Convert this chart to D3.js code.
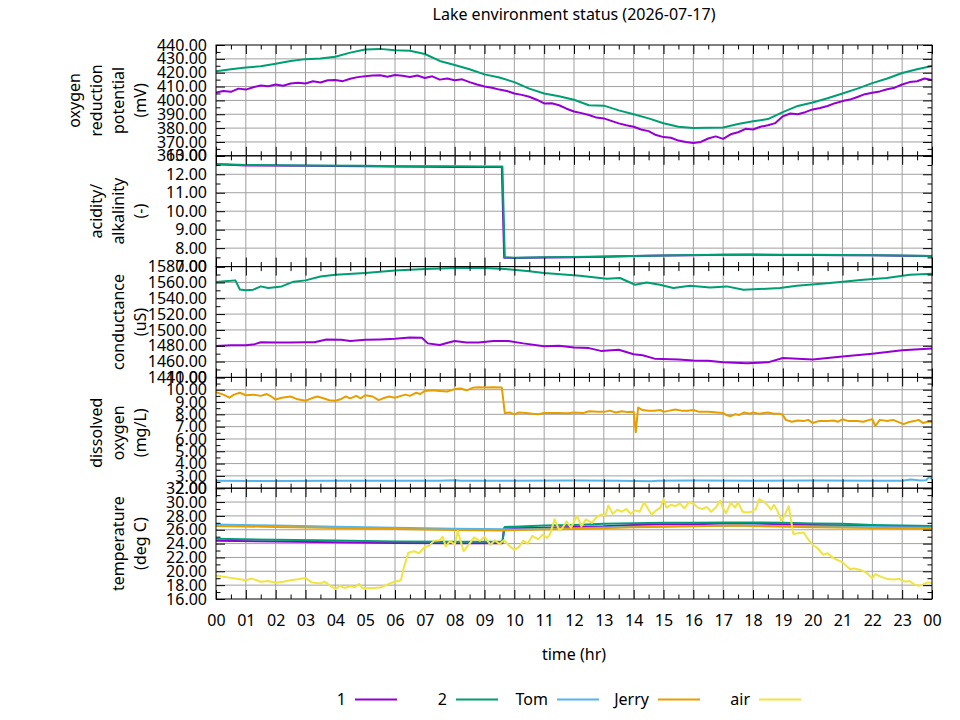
<!DOCTYPE html>
<html>
<head>
<meta charset="utf-8">
<script src="https://cdn.jsdelivr.net/npm/d3@7"></script>
<style>
  body { margin: 0; background: #fff; }
  svg { font-family: "Noto Sans", "Open Sans", sans-serif; }
</style>
</head>
<body>
<svg id="chart" width="960" height="720"></svg>
<script>
var chartTitle = 'Lake environment status (2026-07-17)';
var xTitle = 'time (hr)';
var hourLabels = ['00','01','02','03','04','05','06','07','08','09','10','11',
  '12','13','14','15','16','17','18','19','20','21','22','23','00'];
var seriesNames = ['1', '2', 'Tom', 'Jerry', 'air'];
var seriesColors = ['#9400d3', '#009e73', '#56b4e9', '#e69f00', '#f0e442'];

// oxygen reduction potential (mV), [hour, value]
var orp1 = [[0,405.6],[0.25,406.8],[0.5,406.2],[0.75,408.5],[1,407.8],[1.25,409.5],[1.5,410.8],[1.75,410.2],
  [2,411.5],[2.25,410.6],[2.5,412.2],[2.75,412.8],[3,412.2],[3.25,413.8],[3.5,412.9],[3.75,414.5],[4,414.8],
  [4.25,413.9],[4.5,415.6],[4.75,416.8],[5,417.5],[5.25,417.9],[5.5,418.2],[5.75,417.1],[6,418.4],[6.25,417.8],
  [6.5,416.9],[6.75,418],[7,416.2],[7.25,417.4],[7.5,415],[7.75,415.8],[8,414.6],[8.25,415.2],[8.5,413.2],
  [8.75,411.5],[9,410],[9.25,409.2],[9.5,407.8],[9.75,406.8],[10,405],[10.25,404],[10.5,402.6],[10.75,400.5],
  [11,397.8],[11.25,398],[11.5,396.5],[11.75,394],[12,392],[12.25,390.8],[12.5,389.5],[12.75,387.6],[13,387],
  [13.25,385.2],[13.5,383.4],[13.75,382],[14,381],[14.25,379],[14.5,377.8],[14.75,375],[15,373.5],[15.25,373],
  [15.5,371],[15.75,370],[16,369.2],[16.25,370],[16.5,372.5],[16.75,374],[17,372.2],[17.25,375.5],[17.5,377],
  [17.75,379.5],[18,379],[18.25,381],[18.5,382],[18.75,383.6],[19,388.5],[19.25,390.5],[19.5,390],[19.75,391.5],
  [20,393.5],[20.25,394.5],[20.5,396],[20.75,398],[21,399.5],[21.25,400.6],[21.5,402.5],[21.75,404.5],[22,405.5],
  [22.25,406.5],[22.5,408],[22.75,409.2],[23,411.5],[23.25,413.2],[23.5,413.8],[23.75,415.8],[24,414.8]];
var orp2 = [[0,421],[0.5,422.5],[1,423.8],[1.5,424.6],[2,426.5],[2.5,428.5],[3,429.8],[3.5,430.2],[4,431.5],
  [4.5,434.5],[5,436.8],[5.5,437.2],[6,436.2],[6.5,435.8],[7,433.5],[7.5,428.5],[8,425.5],[8.5,422.5],[9,418.8],
  [9.5,416.5],[10,413.2],[10.5,408.5],[11,405],[11.5,403],[12,400.5],[12.5,396.5],[13,396.2],[13.5,392.8],
  [14,390],[14.5,387],[15,383.5],[15.5,381],[16,380],[16.5,380.2],[17,380.5],[17.5,383],[18,385],[18.5,386.5],
  [19,391.5],[19.5,396],[20,398.5],[20.5,401.5],[21,405],[21.5,408.5],[22,412.5],[22.5,415.8],[23,419.8],
  [23.5,422.5],[24,424.8]];

// acidity / alkalinity
var ph1 = [[0,12.54],[1,12.48],[3,12.46],[5,12.44],[6,12.42],[7,12.41],[8,12.4],[9,12.4],[9.58,12.4],[9.66,7.48],
  [10,7.47],[11,7.49],[12,7.51],[13,7.54],[14,7.57],[15,7.6],[16,7.62],[17,7.64],[18,7.64],[19,7.63],[20,7.63],
  [21,7.62],[22,7.61],[23,7.59],[24,7.57]];
var ph2 = [[0,12.56],[1,12.5],[3,12.48],[5,12.46],[6,12.44],[7,12.43],[8,12.43],[9,12.42],[9.6,12.42],[9.68,7.5],
  [10,7.48],[11,7.5],[12,7.52],[13,7.55],[14,7.58],[15,7.6],[16,7.63],[17,7.64],[18,7.65],[19,7.64],[20,7.64],
  [21,7.63],[22,7.62],[23,7.6],[24,7.58]];

// conductance (uS)
var cond1 = [[0,1479.8],[0.5,1480.5],[1,1480.6],[1.3,1482],[1.5,1484.5],[2,1484],[2.5,1484],[3,1484.5],[3.3,1484.5],
  [3.7,1488],[4.2,1487.5],[4.5,1486],[5,1487.5],[5.5,1488],[6,1488.8],[6.5,1490.5],[6.9,1490],[7.1,1483],[7.5,1481],
  [7.8,1484],[8,1486],[8.4,1484],[8.8,1484],[9.3,1486],[9.8,1486],[10.3,1483],[11,1479.5],[11.5,1480],[12,1477.8],
  [12.5,1477],[12.9,1473.5],[13.5,1475],[14,1469.3],[14.3,1468],[14.7,1463.7],[15.5,1462.5],[16,1461.4],[16.5,1461],
  [17,1459.2],[17.8,1458],[18.5,1459],[19,1464.5],[19.5,1463.5],[20,1462.6],[21,1466.5],[22,1470],[23,1474.2],
  [24,1476.4]];
var cond2 = [[0,1560.5],[0.5,1562],[0.65,1562.6],[0.8,1551],[1,1550],[1.25,1550.8],[1.5,1555],[1.75,1553],[2.2,1555],
  [2.6,1561],[3,1562.6],[3.5,1567.5],[4,1569.8],[5,1572],[6,1575],[7,1577],[8,1578.3],[9,1578.3],[9.7,1577],
  [10.5,1574],[11,1572],[12.2,1568.5],[13.1,1564.7],[13.54,1565.6],[14.05,1557.1],[14.44,1560],[14.88,1557],
  [15.33,1552.9],[15.89,1555.8],[16.56,1553.5],[17.12,1555],[17.68,1550.7],[18.9,1552.9],[19.47,1555.8],
  [20.58,1559.3],[21.7,1563.5],[22.48,1565.6],[23.26,1569.8],[24,1571]];

// dissolved oxygen (mg/L)
var doTom = [[0,2.6],[2,2.58],[4,2.6],[6,2.6],[7.5,2.6],[8,2.65],[8.2,2.6],[10,2.6],[12,2.62],[13.5,2.6],
  [14.6,2.57],[14.8,2.6],[16,2.62],[18,2.6],[20,2.62],[22,2.6],[23,2.6],[23.3,2.7],[23.6,2.62],[23.8,2.65],
  [23.9,2.9],[24,2.75]];
var doJerry = [[0,9.8],[0.25,9.6],[0.45,9.35],[0.6,9.6],[0.8,9.75],[1,9.55],[1.25,9.6],[1.5,9.5],[1.7,9.65],
  [1.85,9.45],[2,9.2],[2.2,9.35],[2.5,9.45],[2.7,9.25],[3,9.1],[3.2,9.3],[3.4,9.45],[3.6,9.3],[3.8,9.15],[4,9.1],
  [4.2,9.25],[4.35,9.45],[4.5,9.3],[4.7,9.5],[4.85,9.3],[5,9.55],[5.25,9.45],[5.45,9.15],[5.6,9.3],[5.8,9.45],
  [6,9.35],[6.2,9.5],[6.35,9.6],[6.5,9.5],[6.7,9.75],[6.85,9.65],[7,9.9],[7.25,9.95],[7.5,9.9],[7.75,9.85],
  [8,10.05],[8.2,10.1],[8.4,9.95],[8.6,10.15],[8.8,10.2],[9,10.18],[9.3,10.2],[9.58,10.18],[9.68,8.1],[9.85,8.15],
  [10,8],[10.15,8.15],[10.4,8.1],[10.6,8.05],[10.8,8],[11,8.1],[11.5,8.1],[11.8,8.08],[12,8.15],[12.3,8.1],
  [12.5,8.25],[12.8,8.2],[13,8.2],[13.2,8.3],[13.4,8.15],[13.6,8.25],[13.8,8.18],[14,8.2],[14.07,6.55],[14.15,8.55],
  [14.3,8.35],[14.5,8.3],[14.7,8.3],[14.9,8.35],[15,8.2],[15.2,8.3],[15.4,8.4],[15.6,8.3],[15.8,8.3],[16,8.35],
  [16.2,8.2],[16.5,8.2],[16.8,8.15],[17,8.1],[17.1,7.95],[17.25,7.85],[17.4,8],[17.55,7.95],[17.7,8.15],
  [17.9,8.05],[18,8.15],[18.2,8.05],[18.5,8.15],[18.7,8.05],[18.9,8.05],[19,7.95],[19.1,7.55],[19.3,7.4],
  [19.5,7.5],[19.7,7.45],[19.85,7.55],[20,7.3],[20.2,7.45],[20.5,7.45],[20.7,7.5],[20.85,7.4],[21,7.6],
  [21.2,7.45],[21.5,7.45],[21.7,7.4],[21.9,7.55],[22,7.6],[22.1,7.05],[22.25,7.55],[22.5,7.45],[22.7,7.55],
  [22.9,7.35],[23.05,7.2],[23.2,7.35],[23.4,7.45],[23.55,7.55],[23.7,7.3],[23.85,7.4],[24,7.4]];

// temperature (deg C)
var temp1 = [[0,24.4],[2,24.3],[4,24.2],[6,24.1],[8,24.05],[9.6,24.05],[9.65,26.2],[10,26.2],[11,26.3],[12,26.4],
  [13,26.5],[14,26.7],[15,26.8],[16,26.8],[17,26.9],[18,26.9],[19,26.8],[20,26.7],[21,26.6],[22,26.5],[23,26.4],
  [24,26.35]];
var temp2 = [[0,24.7],[2,24.55],[4,24.45],[6,24.3],[8,24.25],[9.6,24.3],[9.68,26.4],[10,26.45],[11,26.6],[12,26.7],
  [13,26.85],[14,26.95],[15,27],[16,27],[17,27.05],[18,27.05],[19,27],[20,26.9],[21,26.85],[22,26.7],[23,26.6],
  [24,26.55]];
var tempTom = [[0,26.75],[2,26.6],[4,26.45],[6,26.3],[8,26.15],[10,26.05],[12,26.2],[14,26.45],[16,26.55],
  [18,26.6],[20,26.5],[22,26.4],[24,26.3]];
var tempJerry = [[0,26.55],[2,26.4],[4,26.25],[6,26.1],[8,25.95],[9.5,25.9],[10,25.95],[12,26.1],[14,26.35],
  [16,26.5],[17.5,26.6],[18,26.55],[20,26.35],[22,26.25],[24,26.1]];
var tempAir = [[0,19.4],[0.25,19.2],[0.5,19.05],[0.75,18.9],[1,18.7],[1.2,18.95],[1.5,18.5],[1.75,18.6],[2,18.35],
  [2.25,18.5],[2.5,18.7],[2.75,18.85],[3,19.05],[3.2,18.4],[3.5,18.25],[3.65,18.5],[3.8,18],[4,17.45],[4.15,17.9],
  [4.3,17.6],[4.5,17.85],[4.65,17.7],[4.8,18.2],[4.9,17.6],[5,17.55],[5.25,17.6],[5.5,17.65],[5.7,18],[5.85,18.3],
  [6,18.5],[6.2,18.7],[6.3,20.6],[6.45,22.7],[6.65,22.9],[6.8,22.6],[7,23.5],[7.15,23.7],[7.3,24.4],[7.5,24.5],
  [7.6,25],[7.7,23.6],[7.85,24.4],[8,23.8],[8.1,25.8],[8.3,22.9],[8.5,24],[8.65,24.9],[8.85,24.4],[9,25],
  [9.2,23.8],[9.35,24.5],[9.5,23.9],[9.65,24.5],[9.85,23.6],[10,23.1],[10.15,23.5],[10.3,24.4],[10.45,24],
  [10.6,25.1],[10.8,24.6],[10.95,25.3],[11.1,24.8],[11.2,25.4],[11.35,27.5],[11.5,26],[11.6,26.2],[11.75,27.2],
  [11.9,26.3],[12.1,28],[12.25,26.5],[12.4,27.5],[12.6,27],[12.75,27.8],[12.9,28.2],[13.05,28],[13.15,29.5],
  [13.3,28.3],[13.45,28.9],[13.6,28.6],[13.75,29],[13.9,28.3],[14.05,28.8],[14.2,28.6],[14.35,29.96],[14.5,28.9],
  [14.6,28.2],[14.75,28.8],[14.9,29.2],[15,30.4],[15.1,29.2],[15.25,29.6],[15.4,29.4],[15.55,29.8],[15.7,29.1],
  [15.85,29.96],[16,29.8],[16.15,29.2],[16.3,29],[16.45,29.3],[16.6,28.6],[16.75,29.2],[16.9,30.2],[17,29.1],
  [17.1,28.4],[17.25,29.9],[17.4,29.2],[17.5,29.96],[17.65,28.6],[17.8,28.5],[17.95,28.6],[18.1,29],[18.2,30.4],
  [18.35,30.1],[18.5,29.5],[18.6,28.9],[18.7,29.6],[18.8,28.9],[18.95,27.3],[19.05,28],[19.2,29.4],[19.35,25.4],
  [19.5,25.5],[19.7,25.6],[19.85,24.6],[20,23.8],[20.15,23.4],[20.35,22.4],[20.5,22.6],[20.7,21.9],[20.85,21.6],
  [21,21.3],[21.25,20.3],[21.4,20.4],[21.6,20.2],[21.8,19.8],[22,19],[22.1,19.6],[22.3,19.2],[22.5,18.9],
  [22.7,18.8],[22.9,18.9],[23.1,18.5],[23.25,18.6],[23.4,18.1],[23.55,17.9],[23.7,18.1],[23.85,18.4],[24,18.3]];

var panels = [
  { label: ['oxygen', 'reduction', 'potential', '(mV)'], domain: [360, 440], major: 10, minor: 5,
    lines: [[orp1, 0], [orp2, 1]] },
  { label: ['acidity/', 'alkalinity', '(-)'], domain: [7, 13], major: 1, minor: 0.5,
    lines: [[ph1, 0], [ph2, 1]] },
  { label: ['conductance', '(uS)'], domain: [1440, 1580], major: 20, minor: 10,
    lines: [[cond1, 0], [cond2, 1]] },
  { label: ['dissolved', 'oxygen', '(mg/L)'], domain: [2, 11], major: 1, minor: 0.5,
    lines: [[doTom, 2], [doJerry, 3]] },
  { label: ['temperature', '(deg C)'], domain: [16, 32], major: 2, minor: 1,
    lines: [[temp1, 0], [temp2, 1], [tempTom, 2], [tempJerry, 3], [tempAir, 4]] }
];

var plotLeft = 216, plotRight = 932, plotTop = 45, plotBottom = 599;
var panelH = (plotBottom - plotTop) / panels.length;
var fontSize = '16px';
var grid_color = '#a0a0a0';

var svg = d3.select('#chart');
var x = d3.scaleLinear().domain([0, 24]).range([plotLeft, plotRight]);
var majorX = d3.range(0, 25, 1);
var minorX = d3.range(0.5, 24, 1);

function steps(lo, hi, step) {
  var n = Math.round((hi - lo) / step);
  return d3.range(n + 1).map(function(k){ return lo + k * step; });
}

function styleAxis(sel) {
  sel.select('.domain').remove();
  sel.selectAll('line').attr('stroke', '#000').attr('stroke-width', 1);
  sel.selectAll('text')
    .attr('fill', '#000')
    .style('font-family', '"Noto Sans", "Open Sans", sans-serif')
    .style('font-size', fontSize);
}

svg.append('text')
  .attr('x', (plotLeft + plotRight) / 2)
  .attr('y', 20)
  .attr('text-anchor', 'middle')
  .style('font-size', fontSize)
  .text(chartTitle);

panels.forEach(function(p, i){
  var y0 = plotTop + i * panelH;
  var y1 = y0 + panelH;
  var y = d3.scaleLinear().domain(p.domain).range([y1, y0]);
  var majorY = steps(p.domain[0], p.domain[1], p.major);
  var minorY = steps(p.domain[0], p.domain[1], p.minor).filter(function(v){
    return majorY.indexOf(v) < 0;
  });

  var g = svg.append('g').classed('panel-' + i, true);

  // grid
  g.selectAll('.vgrid')
    .data(majorX.slice(1, -1))
    .enter()
    .append('line')
    .attr('x1', function(d){ return x(d); })
    .attr('x2', function(d){ return x(d); })
    .attr('y1', y0)
    .attr('y2', y1)
    .attr('stroke', grid_color)
    .attr('stroke-width', 1);

  g.selectAll('.hgrid')
    .data(majorY.slice(1, -1))
    .enter()
    .append('line')
    .attr('x1', plotLeft)
    .attr('x2', plotRight)
    .attr('y1', function(d){ return y(d); })
    .attr('y2', function(d){ return y(d); })
    .attr('stroke', grid_color)
    .attr('stroke-width', 1);

  // data
  var clipId = 'clip-' + i;
  svg.append('clipPath').attr('id', clipId)
    .append('rect')
    .attr('x', plotLeft).attr('y', y0)
    .attr('width', plotRight - plotLeft).attr('height', panelH);

  var line = d3.line()
    .x(function(d){ return x(d[0]); })
    .y(function(d){ return y(d[1]); });

  g.selectAll('.series')
    .data(p.lines)
    .enter()
    .append('path')
    .attr('clip-path', 'url(#' + clipId + ')')
    .attr('d', function(d){ return line(d[0]); })
    .attr('fill', 'none')
    .attr('stroke', function(d){ return seriesColors[d[1]]; })
    .attr('stroke-width', 2)
    .attr('stroke-linejoin', 'round');

  // border + ticks (inward, mirrored)
  g.append('rect')
    .attr('x', plotLeft).attr('y', y0)
    .attr('width', plotRight - plotLeft).attr('height', panelH)
    .attr('fill', 'none')
    .attr('stroke', '#000')
    .attr('stroke-width', 1);

  g.append('g').attr('transform', 'translate(' + plotLeft + ',0)')
    .call(d3.axisLeft(y).tickValues(majorY).tickSize(-9).tickPadding(9).tickFormat(d3.format('.2f')))
    .call(styleAxis);
  g.append('g').attr('transform', 'translate(' + plotLeft + ',0)')
    .call(d3.axisLeft(y).tickValues(minorY).tickSize(-4.5).tickFormat(''))
    .call(styleAxis);
  g.append('g').attr('transform', 'translate(' + plotRight + ',0)')
    .call(d3.axisRight(y).tickValues(majorY).tickSize(-9).tickFormat(''))
    .call(styleAxis);
  g.append('g').attr('transform', 'translate(' + plotRight + ',0)')
    .call(d3.axisRight(y).tickValues(minorY).tickSize(-4.5).tickFormat(''))
    .call(styleAxis);

  var isLast = (i === panels.length - 1);
  g.append('g').attr('transform', 'translate(0,' + y1 + ')')
    .call(d3.axisBottom(x).tickValues(majorX).tickSize(-9).tickPadding(16)
      .tickFormat(function(d){ return isLast ? hourLabels[d] : ''; }))
    .call(styleAxis);
  g.append('g').attr('transform', 'translate(0,' + y1 + ')')
    .call(d3.axisBottom(x).tickValues(minorX).tickSize(-4.5).tickFormat(''))
    .call(styleAxis);
  g.append('g').attr('transform', 'translate(0,' + y0 + ')')
    .call(d3.axisTop(x).tickValues(majorX).tickSize(-9).tickFormat(''))
    .call(styleAxis);
  g.append('g').attr('transform', 'translate(0,' + y0 + ')')
    .call(d3.axisTop(x).tickValues(minorX).tickSize(-4.5).tickFormat(''))
    .call(styleAxis);

  // y title, one rotated text per line
  var n = p.label.length;
  g.selectAll('.ytitle')
    .data(p.label)
    .enter()
    .append('text')
    .attr('transform', function(d, k){
      var lx = 140 - (n - 1 - k) * 22;
      return 'translate(' + lx + ',' + (y0 + panelH / 2) + ') rotate(-90)';
    })
    .attr('dy', '0.35em')
    .attr('text-anchor', 'middle')
    .style('font-size', fontSize)
    .text(function(d){ return d; });
});

svg.append('text')
  .attr('x', (plotLeft + plotRight) / 2)
  .attr('y', 660)
  .attr('text-anchor', 'middle')
  .style('font-size', fontSize)
  .text(xTitle);

// legend
var legendX = d3.scaleLinear().domain([0, 1]).range([355, 456]);
var legend = svg.append('g').classed('legend', true);
var entry = legend.selectAll('g')
  .data(seriesNames)
  .enter()
  .append('g')
  .attr('transform', function(d, i){ return 'translate(' + legendX(i) + ',0)'; });

entry.append('text')
  .attr('x', -9)
  .attr('y', 705)
  .attr('text-anchor', 'end')
  .style('font-size', fontSize)
  .text(function(d){ return d; });

entry.append('line')
  .attr('x1', 0).attr('x2', 42)
  .attr('y1', 699.5).attr('y2', 699.5)
  .attr('stroke', function(d, i){ return seriesColors[i]; })
  .attr('stroke-width', 2);
</script>
</body>
</html>
